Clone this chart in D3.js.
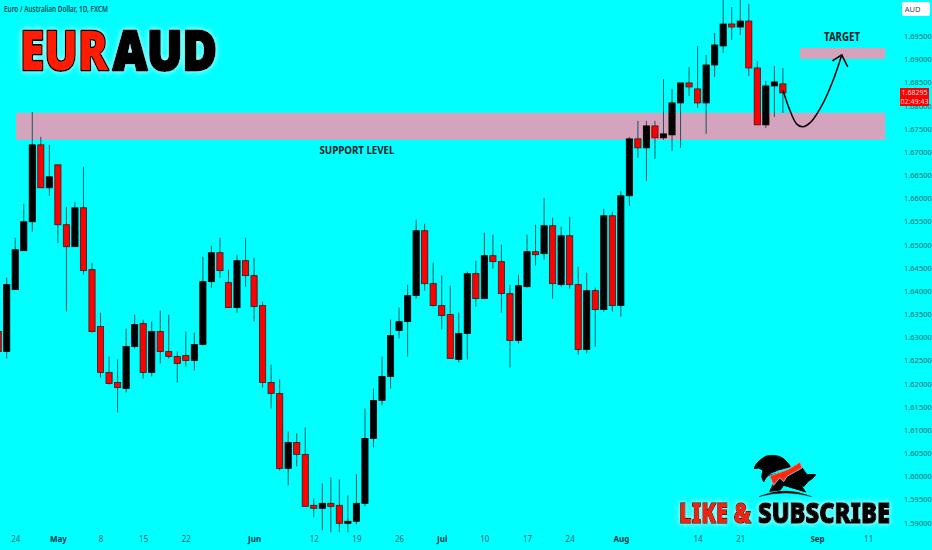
<!DOCTYPE html>
<html>
<head>
<meta charset="utf-8">
<script src="https://cdn.jsdelivr.net/npm/d3@7"></script>
<style>
html,body{margin:0;padding:0;background:#00ffff;overflow:hidden}
svg{display:block}
text{font-family:"Noto Sans","Open Sans",sans-serif}
</style>
</head>
<body>
<svg id="c" width="932" height="550"></svg>
<script>
const opens=[1.63136,1.62705,1.64041,1.64881,1.65506,1.67166,1.66239,1.66735,1.65442,1.64968,1.65808,1.64472,1.63244,1.62252,1.62037,1.61908,1.62812,1.63308,1.62252,1.63136,1.62705,1.62597,1.62619,1.62511,1.62855,1.64213,1.64838,1.64192,1.63653,1.64666,1.64343,1.63696,1.62037,1.61800,1.60183,1.60743,1.60485,1.59386,1.59321,1.59429,1.59386,1.58998,1.59041,1.59429,1.60830,1.61650,1.62166,1.63158,1.63351,1.63912,1.65313,1.64170,1.63696,1.63502,1.62532,1.63093,1.64386,1.63847,1.64774,1.64645,1.63955,1.62942,1.64105,1.64860,1.64817,1.65420,1.64149,1.65204,1.64149,1.62748,1.64019,1.63610,1.65635,1.63696,1.66067,1.67295,1.67101,1.67575,1.67317,1.67381,1.68071,1.68502,1.68373,1.68071,1.68890,1.69300,1.69774,1.69709,1.69838,1.68825,1.67597,1.68438,1.68481];
const highs=[1.63287,1.64300,1.65162,1.65894,1.67877,1.67338,1.67166,1.66735,1.65830,1.65938,1.66692,1.64623,1.63545,1.62597,1.62532,1.63201,1.63502,1.63394,1.63351,1.63588,1.63502,1.62705,1.63136,1.63114,1.64752,1.64989,1.65162,1.64472,1.64795,1.65162,1.64731,1.63782,1.62425,1.62101,1.60981,1.60938,1.61067,1.59537,1.59859,1.59989,1.59946,1.59601,1.60054,1.61476,1.61908,1.62597,1.63394,1.63653,1.64149,1.65550,1.65463,1.64623,1.64343,1.64127,1.63545,1.64429,1.64666,1.65269,1.65226,1.65011,1.64149,1.64364,1.65226,1.65442,1.66024,1.65592,1.65399,1.65614,1.64537,1.64407,1.64084,1.65787,1.65722,1.66175,1.67338,1.67683,1.67683,1.67683,1.68588,1.68373,1.68502,1.68847,1.69300,1.69106,1.69580,1.70356,1.70140,1.70334,1.70205,1.68976,1.68545,1.68869,1.68825];
const lows=[1.62640,1.62554,1.64041,1.64881,1.65291,1.66239,1.66067,1.65054,1.63567,1.64968,1.64364,1.63114,1.62145,1.61994,1.61390,1.61822,1.62769,1.62123,1.62166,1.62446,1.62554,1.62037,1.62382,1.62296,1.62834,1.64084,1.64300,1.63653,1.63545,1.64105,1.63351,1.61929,1.61476,1.60140,1.59816,1.60226,1.59364,1.59127,1.58847,1.58804,1.58804,1.58804,1.58976,1.59364,1.60636,1.61542,1.61908,1.62985,1.62597,1.63847,1.64019,1.63675,1.63179,1.62554,1.62468,1.62532,1.63675,1.63847,1.64493,1.63545,1.62360,1.62877,1.64084,1.64558,1.64688,1.63847,1.64105,1.64062,1.62640,1.62662,1.62812,1.63567,1.63567,1.63459,1.65851,1.66886,1.66390,1.66864,1.67274,1.67037,1.67101,1.68222,1.67963,1.67403,1.68631,1.69149,1.69429,1.69537,1.68653,1.67597,1.67532,1.67769,1.67856];
const closes=[1.62705,1.64149,1.64903,1.65506,1.67166,1.66239,1.66476,1.65442,1.64968,1.65808,1.64451,1.63136,1.62252,1.62015,1.61929,1.62812,1.63287,1.62252,1.63136,1.62705,1.62597,1.62446,1.62511,1.62855,1.64213,1.64838,1.64451,1.63653,1.64666,1.64343,1.63675,1.62037,1.61800,1.60183,1.60743,1.60485,1.59364,1.59321,1.59429,1.59364,1.58998,1.59041,1.59429,1.60830,1.61650,1.62166,1.63050,1.63351,1.63912,1.65313,1.64170,1.63696,1.63481,1.62554,1.63093,1.64386,1.63847,1.64774,1.64645,1.63955,1.62942,1.64127,1.64860,1.64795,1.65420,1.64170,1.65204,1.64149,1.62748,1.64019,1.63610,1.65635,1.63696,1.66067,1.67295,1.67101,1.67575,1.67317,1.67403,1.68071,1.68502,1.68416,1.68071,1.68890,1.69321,1.69774,1.69709,1.69838,1.68825,1.67597,1.68438,1.68524,1.68287];
const firstIndex=-1;
const yTickLabels=["1.69500","1.69000","1.68500","1.68000","1.67500","1.67000","1.66500","1.66000","1.65500","1.65000","1.64500","1.64000","1.63500","1.63000","1.62500","1.62000","1.61500","1.61000","1.60500","1.60000","1.59500","1.59000"];
const xTickIndex=[1,6,11,16,21,29,36,41,46,51,56,61,66,72,81,86,95,101];
const xTickLabels=["24","May","8","15","22","Jun","12","19","26","Jul","10","17","24","Aug","14","21","Sep","11"];
const boldLabels=["May","Jun","Jul","Aug","Sep"];
const supportZone=[1.09,103,1.67856,1.67274];
const targetZone=[93,103,1.69257,1.69019];
const curvePath=[[91,1.68351],[91.8,1.67920],[92.6,1.67619],[93.3,1.67554],[94.3,1.67662],[95.6,1.68028],[96.9,1.68567],[97.9,1.69106]];
const curveHead=[[96.8,1.68976],[97.9,1.69106],[98.6,1.68847]];
const title="Euro / Australian Dollar, 1D, FXCM";
const lastPrice="1.68295", countdown="02:49:43";

const svg=d3.select("#c");
const x=d3.scaleLinear().domain([-1,101]).range([-1.83,868.2]);
const y=d3.scaleLinear().domain([1.59,1.695]).range([523.2,36.7]);

const defs=svg.append("defs");
const glow=defs.append("filter").attr("id","glow").attr("x","-20%").attr("y","-40%").attr("width","140%").attr("height","180%");
glow.append("feGaussianBlur").attr("in","SourceAlpha").attr("stdDeviation",3).attr("result","b");
glow.append("feFlood").attr("flood-color","#d8ffff").attr("flood-opacity",0.95);
glow.append("feComposite").attr("in2","b").attr("operator","in").attr("result","g");
const gm=glow.append("feMerge");
gm.append("feMergeNode").attr("in","g");
gm.append("feMergeNode").attr("in","SourceGraphic");
defs.append("filter").attr("id","soft").append("feGaussianBlur").attr("stdDeviation",0.35);

svg.append("rect").attr("width",932).attr("height",550).attr("fill","#00ffff");

const zones=svg.append("g").attr("filter","url(#soft)");
[supportZone,targetZone].forEach(z=>{
  zones.append("rect").attr("x",x(z[0])).attr("width",x(z[1])-x(z[0]))
    .attr("y",y(z[2])).attr("height",y(z[3])-y(z[2])).attr("fill","#d4a3bd");
});

const idx=d3.range(opens.length);
const candles=svg.append("g").attr("filter","url(#soft)");
const g=candles.selectAll("g").data(idx).join("g");
g.append("line")
  .attr("x1",i=>x(i+firstIndex)).attr("x2",i=>x(i+firstIndex))
  .attr("y1",i=>y(highs[i])).attr("y2",i=>y(lows[i]))
  .attr("stroke","#0a4c4c").attr("stroke-width",0.9);
g.append("rect")
  .attr("x",i=>x(i+firstIndex)-3.1).attr("width",6.2)
  .attr("y",i=>y(Math.max(opens[i],closes[i])))
  .attr("height",i=>Math.max(1,Math.abs(y(opens[i])-y(closes[i]))))
  .attr("fill",i=>closes[i]>=opens[i]?"#000":"#ff0000")
  .attr("stroke",i=>closes[i]>=opens[i]?"#000":"#3a1a1a").attr("stroke-width",0.8);

const xAxis=d3.axisBottom(x).tickValues(xTickIndex).tickSize(0).tickPadding(0)
  .tickFormat((d,i)=>xTickLabels[i]);
const xg=svg.append("g").attr("transform","translate(0,536.5)").call(xAxis);
xg.select(".domain").remove();
xg.selectAll("text").attr("font-size",8)
  .attr("font-family","'Noto Sans',sans-serif")
  .attr("font-weight",function(){return boldLabels.includes(this.textContent)?700:400})
  .attr("fill",function(){return boldLabels.includes(this.textContent)?"#063844":"#2b6468"});

const yAxis=d3.axisRight(y).tickValues(yTickLabels.map(Number)).tickSize(0).tickPadding(0)
  .tickFormat(d3.format(".5f"));
const yg=svg.append("g").attr("transform","translate(904,-0.5)").call(yAxis);
yg.select(".domain").remove();
yg.selectAll("text").attr("font-size",7.5).attr("fill","#2b6468")
  .attr("font-family","'Noto Sans',sans-serif");

svg.append("rect").attr("x",900).attr("y",88).attr("width",29).attr("height",18).attr("fill","#ff0000");
svg.append("text").text(lastPrice).attr("x",914.5).attr("y",95).attr("text-anchor","middle").attr("font-size",7).attr("fill","#ffd5d5");
svg.append("text").text(countdown).attr("x",914.5).attr("y",103.5).attr("text-anchor","middle").attr("font-size",7).attr("fill","#ffd5d5");

svg.append("rect").attr("x",902).attr("y",2).attr("width",28).attr("height",14).attr("rx",2).attr("fill","#fff");
svg.append("text").text("AUD").attr("x",912.5).attr("y",12).attr("text-anchor","middle").attr("font-size",7.5).attr("fill","#445");

svg.append("text").text(title).attr("x",4).attr("y",12).attr("font-size",8.5).attr("font-weight",600)
  .attr("fill","#0c4550").attr("textLength",104).attr("lengthAdjust","spacingAndGlyphs");

const big=svg.append("g").attr("filter","url(#glow)");
const bigText=(s,x0,w,fill)=>big.append("text").text(s).attr("x",x0).attr("y",70)
  .attr("font-family","Roboto,'Liberation Sans',sans-serif").attr("font-weight",900).attr("font-size",55)
  .attr("textLength",w).attr("lengthAdjust","spacingAndGlyphs")
  .attr("fill",fill).attr("stroke","#000").attr("stroke-width",3).attr("stroke-linejoin","round").attr("paint-order","stroke");
bigText("EUR",20,88,"#ff1a00");
bigText("AUD",113,104,"#000");

const note=(s,cx,cy,w,fs)=>svg.append("text").text(s).attr("x",cx).attr("y",cy).attr("text-anchor","middle")
  .attr("font-family","'Liberation Sans',sans-serif").attr("font-weight",700).attr("font-size",fs)
  .attr("textLength",w).attr("lengthAdjust","spacingAndGlyphs").attr("fill","#05201f");
note("SUPPORT LEVEL",357,154,75,11);
note("TARGET",842,41,36,11.5);

const ln=d3.line().x(d=>x(d[0])).y(d=>y(d[1]));
svg.append("path").attr("d",ln.curve(d3.curveCatmullRom)(curvePath)).attr("fill","none").attr("stroke","#000").attr("stroke-width",1.5);
svg.append("path").attr("d",d3.line().x(d=>x(d[0])).y(d=>y(d[1]))(curveHead)).attr("fill","none").attr("stroke","#000").attr("stroke-width",1.5);

// bull and bear badge
const logo=svg.append("g").attr("transform","translate(745,448) scale(0.3333)").attr("filter","url(#soft)");
logo.append("path").attr("d","M28 62C30 50 40 38 62 25C80 20 100 22 112 30C124 38 132 48 136 56L100 66L76 76L62 90L56 102L50 86L54 66L40 60Z").attr("fill","#000").attr("stroke","#000").attr("stroke-width",3).attr("stroke-linejoin","round");
logo.append("path").attr("d","M74 82L170 58L186 80L212 80L204 90L190 100L176 116L166 110L182 132L150 122L116 112L106 126L74 130L86 106Z").attr("fill","#000").attr("stroke","#000").attr("stroke-width",3).attr("stroke-linejoin","round");
logo.append("path").attr("d","M74 84L130 64L166 42L171 60L126 85L116 101L104 90L86 112Z").attr("fill","#ff2a10").attr("stroke","#9fb6b6").attr("stroke-width",3);
logo.append("path").attr("d","M42 146Q120 112 200 146Q120 124 42 146Z").attr("fill","#000").attr("stroke","#000");

const sub=svg.append("g").attr("filter","url(#glow)");
const subText=(s,x0,w,fill)=>sub.append("text").text(s).attr("x",x0).attr("y",522.5)
  .attr("font-family","Roboto,'Liberation Sans',sans-serif").attr("font-weight",900).attr("font-size",28.5)
  .attr("textLength",w).attr("lengthAdjust","spacingAndGlyphs")
  .attr("fill",fill).attr("stroke","#000").attr("stroke-width",fill==="#000"?1.4:1.4).attr("stroke-linejoin","round").attr("paint-order","stroke");
subText("LIKE &",679,72,"#f2240c");
subText("SUBSCRIBE",758,132,"#000");
</script>
</body>
</html>
